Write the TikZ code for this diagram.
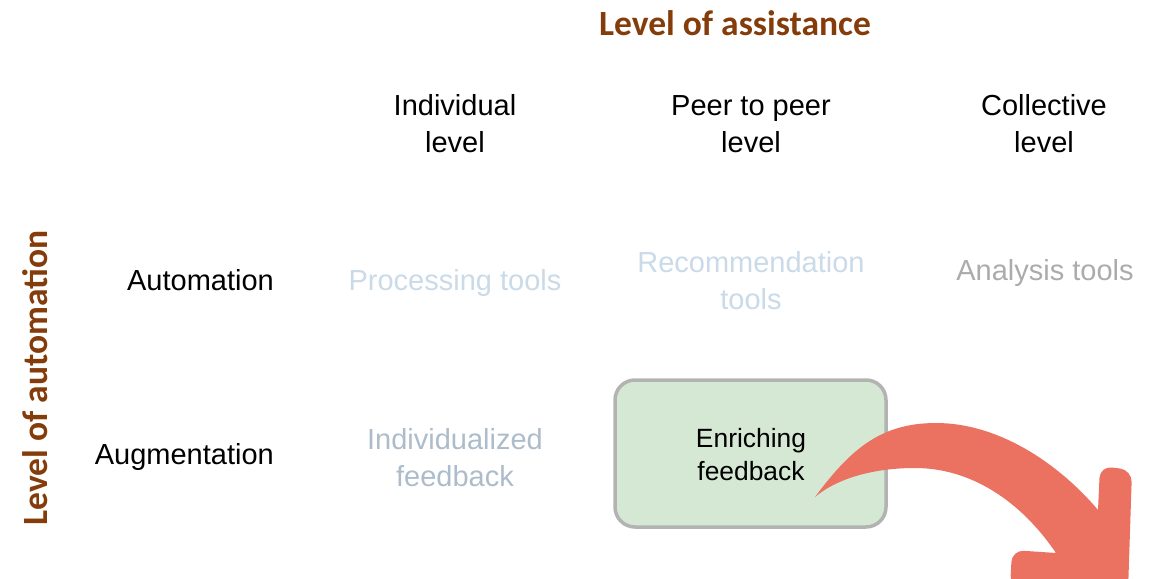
\documentclass[tikz,border=0pt]{standalone}
\usepackage{fontspec}
\setmainfont{Liberation Sans}
\newfontfamily\titlefont{Carlito}
\definecolor{brown}{HTML}{843C0B}
\definecolor{paleblue}{HTML}{CADAE8}
\definecolor{greyblue}{HTML}{ADBCCA}
\definecolor{midgrey}{HTML}{ABABAB}
\definecolor{boxfill}{HTML}{D5E8D4}
\definecolor{boxline}{HTML}{B3B3B3}
\definecolor{arrowred}{HTML}{EB7261}
\tikzset{
  axis/.style={font=\titlefont\bfseries\fontsize{35.5}{40}\selectfont, text=brown, inner sep=0pt},
  lab/.style={font=\fontsize{29}{37}\selectfont, align=center, inner sep=0pt},
  faint/.style={lab, text=paleblue},
  boxtext/.style={font=\fontsize{26.4}{33}\selectfont, align=center, inner sep=0pt},
  hl/.style={draw=boxline, line width=3.5pt, fill=boxfill, rounded corners=20pt}
}
\begin{document}
\begin{tikzpicture}[x=1pt,y=-1pt]
\useasboundingbox (0,0) rectangle (1158,578);
\clip (0,0) rectangle (1158,578);
\node[axis] (title) at (735,23) {Level of assistance};
\node[axis, rotate=90] (vaxis) at (35,378) {Level of automation};
\node[lab] (h1) at (455,124) {Individual\\level};
\node[lab] (h2) at (751,124) {Peer to peer\\level};
\node[lab] (h3) at (1044,124) {Collective\\level};
\node[lab, anchor=east] (r1) at (274,280) {Automation};
\node[lab, anchor=east] (r2) at (274,457) {Augmentation};
\node[faint] (c11) at (455,283) {Processing tools};
\node[faint] (c12) at (751,281) {Recommendation\\tools};
\node[lab, text=midgrey] (c13) at (1045,273) {Analysis tools};
\node[lab, text=greyblue] (c21) at (455,458) {Individualized\\feedback};
\draw[hl] (615,380) rectangle (886,527);
\node[boxtext] (c22) at (751,455) {Enriching\\feedback};
\fill[arrowred] (815,497) .. controls (850,450) and (880,423) .. (936,423)
  .. controls (1000,423) and (1060,465) .. (1098,510)
  [rounded corners=12pt] -- (1100,466) -- (1132,470) -- (1128,592) -- (1010,588) -- (1012,550)
  [sharp corners] -- (1056,553)
  .. controls (1020,500) and (970,468) .. (915,468)
  .. controls (870,468) and (835,480) .. (815,497) -- cycle;
\end{tikzpicture}
\end{document}
